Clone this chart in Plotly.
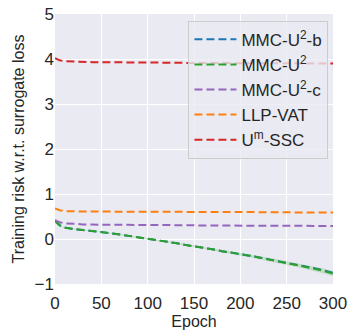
import plotly.graph_objects as go

# Data
epochs = [0, 5, 10, 20, 30, 40, 50, 60, 70, 80, 90, 100, 110, 120, 130, 140, 150,
          160, 170, 180, 190, 200, 210, 220, 230, 240, 250, 260, 270, 280, 290, 300]

mmc_u2_b = [0.41, 0.31, 0.26, 0.22, 0.20, 0.18, 0.16, 0.13, 0.10, 0.07, 0.03, 0.00,
            -0.03, -0.06, -0.09, -0.13, -0.16, -0.20, -0.23, -0.27, -0.30, -0.34,
            -0.37, -0.41, -0.45, -0.48, -0.52, -0.56, -0.60, -0.65, -0.70, -0.75]
mmc_u2 = [0.40, 0.30, 0.25, 0.22, 0.20, 0.18, 0.16, 0.13, 0.10, 0.07, 0.03, 0.00,
          -0.03, -0.06, -0.09, -0.13, -0.16, -0.20, -0.23, -0.27, -0.30, -0.34,
          -0.37, -0.41, -0.45, -0.49, -0.53, -0.57, -0.61, -0.66, -0.71, -0.77]
mmc_u2_spread = [0.01, 0.01, 0.01, 0.01, 0.01, 0.01, 0.01, 0.01, 0.01, 0.01, 0.01, 0.01,
                 0.015, 0.015, 0.015, 0.02, 0.02, 0.02, 0.025, 0.025, 0.03, 0.03,
                 0.035, 0.035, 0.04, 0.04, 0.045, 0.045, 0.05, 0.05, 0.055, 0.06]
mmc_u2_c = [0.42, 0.37, 0.35, 0.33, 0.325, 0.32, 0.32, 0.315, 0.315, 0.31, 0.31, 0.31,
            0.31, 0.305, 0.305, 0.305, 0.305, 0.30, 0.30, 0.30, 0.30, 0.30,
            0.30, 0.30, 0.295, 0.295, 0.295, 0.295, 0.295, 0.29, 0.29, 0.29]
llp_vat = [0.68, 0.64, 0.62, 0.61, 0.61, 0.61, 0.61, 0.605, 0.605, 0.60, 0.60, 0.60,
           0.60, 0.60, 0.60, 0.60, 0.60, 0.60, 0.60, 0.60, 0.60, 0.60,
           0.595, 0.595, 0.595, 0.595, 0.595, 0.59, 0.59, 0.59, 0.59, 0.59]
um_ssc = [4.02, 3.97, 3.95, 3.94, 3.935, 3.93, 3.93, 3.925, 3.925, 3.92, 3.92, 3.92,
          3.92, 3.915, 3.915, 3.915, 3.91, 3.91, 3.91, 3.91, 3.91, 3.905,
          3.905, 3.905, 3.905, 3.90, 3.90, 3.90, 3.90, 3.90, 3.90, 3.90]

names = ["MMC-U<sup>2</sup>-b", "MMC-U<sup>2</sup>", "MMC-U<sup>2</sup>-c",
         "LLP-VAT", "U<sup>m</sup>-SSC"]
colors = ["#1f77b4", "#2ca02c", "#9467bd", "#ff7f0e", "#d62728"]

fig = go.Figure()

# shaded band around MMC-U2
upper = [m + s for m, s in zip(mmc_u2, mmc_u2_spread)]
lower = [m - s for m, s in zip(mmc_u2, mmc_u2_spread)]
fig.add_trace(go.Scatter(
    x=epochs + epochs[::-1], y=upper + lower[::-1],
    fill="toself", fillcolor="rgba(44,160,44,0.2)",
    line=dict(color="rgba(0,0,0,0)"), showlegend=False, hoverinfo="skip"
))

for name, color, ys in zip(names, colors, [mmc_u2_b, mmc_u2, mmc_u2_c, llp_vat, um_ssc]):
    fig.add_trace(go.Scatter(
        x=epochs, y=ys, mode="lines", name=name,
        line=dict(color=color, width=2, dash="8px,4px")
    ))

fig.update_layout(
    width=353, height=335,
    margin=dict(l=55, r=20, t=14, b=51),
    paper_bgcolor="white",
    plot_bgcolor="#EAEAF2",
    font=dict(family="Liberation Sans, Arial, sans-serif", size=17, color="#262626"),
    showlegend=True,
    legend=dict(
        x=0.48, y=0.975, xanchor="left", yanchor="top",
        bgcolor="rgba(234,234,242,0.8)", bordercolor="#cccccc", borderwidth=1,
        font=dict(size=17, color="#262626"),
        itemwidth=42, tracegroupgap=0
    ),
    xaxis=dict(
        range=[0, 300], tickvals=[0, 50, 100, 150, 200, 250, 300],
        showgrid=True, gridcolor="white", gridwidth=1, zeroline=False,
        ticks="outside", ticklen=4, tickcolor="rgba(0,0,0,0)", showline=False,
        automargin=False,
        title=dict(text="Epoch", font=dict(size=16), standoff=2)
    ),
    yaxis=dict(
        range=[-1, 5], tickvals=[-1, 0, 1, 2, 3, 4, 5],
        showgrid=True, gridcolor="white", gridwidth=1, zeroline=False,
        ticks="", showline=False, automargin=False,
        title=dict(text="Training risk w.r.t. surrogate loss", font=dict(size=16), standoff=6)
    ),
)

fig.write_html(
    "out.html", config={"displayModeBar": False},
    post_script="document.documentElement.style.margin='0';"
                "document.body.style.margin='0';"
                "document.documentElement.style.overflow='hidden';"
                "document.body.style.overflow='hidden';"
)
